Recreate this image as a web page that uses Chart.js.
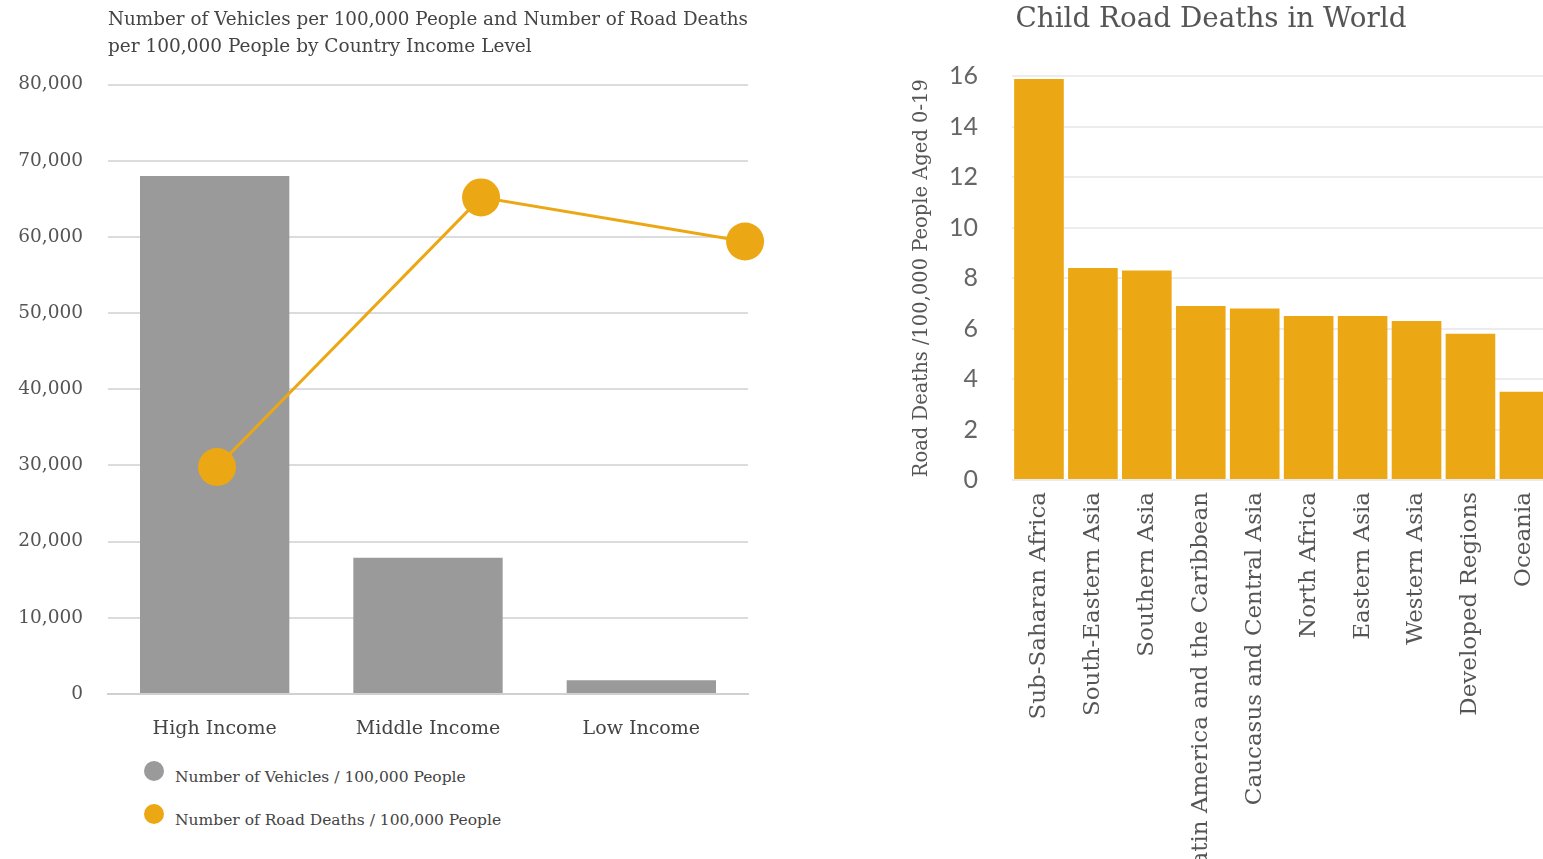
<!DOCTYPE html>
<html>
<head>
<meta charset="utf-8">
<script src="https://cdn.jsdelivr.net/npm/chart.js@4.4.1/dist/chart.umd.min.js"></script>
<style>
    html, body { margin: 0; padding: 0; background: #fff; overflow: hidden; width: 1543px; height: 859px; }
    #incomeBox { position: absolute; left: 0; top: 0; width: 790px; height: 745px; }
    #childBox { position: absolute; left: 866px; top: 0; width: 690px; height: 900px; }
    #incomeLegend { position: absolute; left: 144px; top: 752px; font-family: "DejaVu Serif", serif; font-size: 15.5px; color: #444; }
    #incomeLegend .item { display: flex; align-items: center; height: 43px; }
    #incomeLegend .dot { width: 20px; height: 20px; border-radius: 50%; margin-right: 11px; position: relative; top: -3px; }
    #incomeLegend .txt { position: relative; top: 3px; }
</style>
</head>
<body>
<div id="incomeBox"><canvas id="incomeChart"></canvas></div>
<div id="incomeLegend"></div>
<div id="childBox"><canvas id="childChart"></canvas></div>

<script>
// Левый график: доход страны
const incomeLabels = ['High Income', 'Middle Income', 'Low Income'];
const vehiclesPer100k = [68000, 17900, 1800];
const roadDeathsPoints = [29800, 65200, 59400];   // положение точек по той же оси
const incomeTicks = [0, 10000, 20000, 30000, 40000, 50000, 60000, 70000, 80000];

// Правый график: детская смертность
const regionLabels = [
    'Sub-Saharan Africa', 'South-Eastern Asia', 'Southern Asia',
    'Latin America and the Caribbean', 'Caucasus and Central Asia',
    'North Africa', 'Eastern Asia', 'Western Asia', 'Developed Regions', 'Oceania'
];
const childDeathRates = [15.9, 8.4, 8.3, 6.9, 6.8, 6.5, 6.5, 6.3, 5.8, 3.5];
const childTicks = [0, 2, 4, 6, 8, 10, 12, 14, 16];

const GRAY = '#9a9a9a';
const ORANGE = '#eca714';
const SERIF = '"DejaVu Serif", serif';

function renderIncomeChart() {
    const ctx = document.getElementById('incomeChart').getContext('2d');
    const chart = new Chart(ctx, {
        data: {
            labels: incomeLabels,
            datasets: [{
                type: 'bar',
                label: 'Number of Vehicles / 100,000 People',
                data: vehiclesPer100k,
                backgroundColor: GRAY,
                grouped: false,
                barPercentage: 0.7,
                categoryPercentage: 1,
                order: 2
            }, {
                type: 'line',
                label: 'Number of Road Deaths / 100,000 People',
                data: roadDeathsPoints.map((v, i) => ({ x: i, y: v })),
                xAxisID: 'x2',
                borderColor: ORANGE,
                backgroundColor: ORANGE,
                borderWidth: 3,
                pointRadius: 19,
                pointBorderWidth: 0,
                clip: false,
                order: 1
            }]
        },
        options: {
            responsive: true,
            maintainAspectRatio: false,
            animation: false,
            layout: { padding: { left: 0, right: 42, top: 0, bottom: 0 } },
            plugins: {
                legend: { display: false },
                tooltip: { enabled: false },
                title: {
                    display: true,
                    align: 'start',
                    fullSize: false,
                    text: ['Number of Vehicles per 100,000 People and Number of Road Deaths',
                           'per 100,000 People by Country Income Level'],
                    color: '#444',
                    font: { family: SERIF, size: 18.5, weight: 'normal', lineHeight: 1.45 },
                    padding: { top: 7, bottom: 24 }
                }
            },
            scales: {
                x: {
                    type: 'category',
                    grid: { display: false },
                    border: { color: '#d0d0d0', width: 2 },
                    ticks: { color: '#444', padding: 16, font: { family: SERIF, size: 19 } },
                    afterFit: axis => { axis.height = 51; }
                },
                x2: {
                    type: 'linear',
                    display: false,
                    min: -0.413,
                    max: 2.011
                },
                y: {
                    min: 0,
                    max: 80000,
                    afterBuildTicks: axis => { axis.ticks = incomeTicks.map(v => ({ value: v })); },
                    grid: { color: '#dcdcdc', lineWidth: 2, drawTicks: false },
                    border: { display: false },
                    ticks: {
                        color: '#555',
                        padding: 25,
                        font: { family: SERIF, size: 18.5 },
                        callback: value => value.toLocaleString('en-US')
                    },
                    afterFit: axis => { axis.width = 108; }
                }
            }
        }
    });

    // Легенда столбиком, как на исходной картинке
    const legend = document.getElementById('incomeLegend');
    legend.innerHTML = chart.data.datasets.map(ds => `
        <div class="item"><span class="dot" style="background:${ds.backgroundColor}"></span><span class="txt">${ds.label}</span></div>
    `).join('');
}

function renderChildChart() {
    const ctx = document.getElementById('childChart').getContext('2d');
    new Chart(ctx, {
        type: 'bar',
        data: {
            labels: regionLabels,
            datasets: [{
                label: 'Road Deaths /100,000 People Aged 0-19',
                data: childDeathRates,
                backgroundColor: ORANGE,
                barPercentage: 0.92,
                categoryPercentage: 1
            }]
        },
        options: {
            responsive: true,
            maintainAspectRatio: false,
            animation: false,
            layout: { padding: 0 },
            plugins: {
                legend: { display: false },
                tooltip: { enabled: false },
                title: {
                    display: true,
                    text: 'Child Road Deaths in World',
                    color: '#555',
                    font: { family: SERIF, size: 27.8, weight: 'normal', lineHeight: 1.2 },
                    padding: { top: 3, bottom: 40 }
                }
            },
            scales: {
                x: {
                    grid: { display: false },
                    border: { display: false },
                    ticks: {
                        color: '#555',
                        padding: 4,
                        minRotation: 90,
                        maxRotation: 90,
                        autoSkip: false,
                        font: { family: SERIF, size: 23 }
                    },
                    afterFit: axis => { axis.height = 420; }
                },
                y: {
                    min: 0,
                    max: 16,
                    afterBuildTicks: axis => { axis.ticks = childTicks.map(v => ({ value: v })); },
                    grid: { color: '#ececec', lineWidth: 2, drawTicks: false },
                    border: { display: false },
                    title: {
                        display: true,
                        text: 'Road Deaths /100,000 People Aged 0-19',
                        color: '#555',
                        font: { family: SERIF, size: 19.5 },
                        padding: { top: 44, bottom: 0 }
                    },
                    ticks: {
                        color: '#666',
                        padding: 34,
                        font: { family: 'Lato, sans-serif', size: 25 }
                    },
                    afterFit: axis => { axis.width = 146; }
                }
            }
        }
    });
}

renderIncomeChart();
renderChildChart();
</script>
</body>
</html>
